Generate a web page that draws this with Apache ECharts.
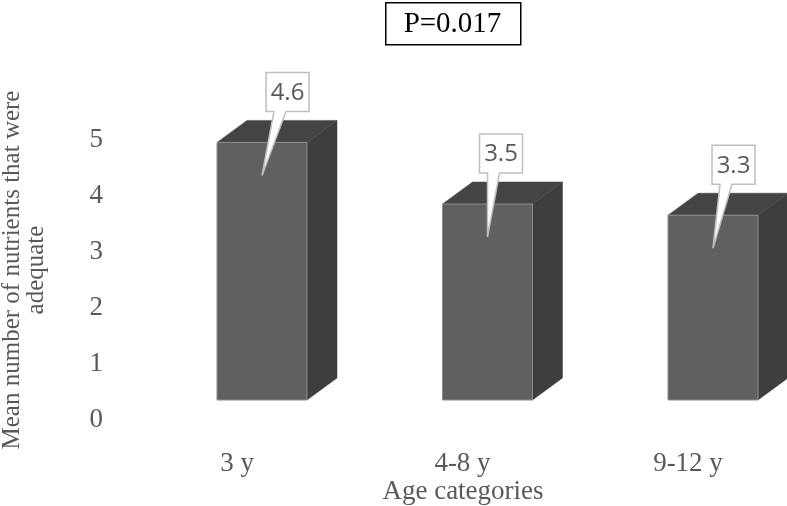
<!DOCTYPE html>
<html>
<head>
<meta charset="utf-8">
<script src="https://cdn.jsdelivr.net/npm/echarts@6/dist/echarts.min.js"></script>
<style>html,body{margin:0;padding:0;background:#fff;}#c{width:787px;height:506px;}</style>
</head>
<body>
<div id="c"></div>
<script>
const categories = ['3 y', '4-8 y', '9-12 y'];
const values = [4.6, 3.5, 3.3];
const yTicks = [0, 1, 2, 3, 4, 5];
const pText = 'P=0.017';
const xTitle = 'Age categories';
const yTitle = 'Mean number of nutrients that were\nadequate';

// callout box horizontal shift relative to its pointer tip (layout only)
const calloutShift = [4, -8, -1];

const chart = echarts.init(document.getElementById('c'), null, {renderer: 'canvas'});
const serif = '"Liberation Serif","Times New Roman",serif';
const txtColor = '#595959';

function renderItem(params, api) {
  const idx = api.value(0);
  const val = api.value(1);
  const p0 = api.coord([idx, 0]);
  const p1 = api.coord([idx, val]);
  const cx = p0[0] + 25;
  const base = p0[1] - 20;
  const top = p1[1] - 20;
  const hw = 45, dx = 30, dy = 22;
  const boxL = cx + calloutShift[params.dataIndex], boxW = 43, boxH = 39;
  const boxB = top - 31, boxT = boxB - boxH;
  const tipX = cx, tipY = top + 33;
  return {
    type: 'group',
    children: [
      {type: 'polygon', shape: {points: [[cx + hw, base], [cx + hw, top], [cx + hw + dx, top - dy], [cx + hw + dx, base - dy]]},
       style: {fill: '#3e3e3e', stroke: '#3e3e3e', lineWidth: 0.5}},
      {type: 'polygon', shape: {points: [[cx - hw, top], [cx - hw + dx, top - dy], [cx + hw + dx, top - dy], [cx + hw, top]]},
       style: {fill: '#444444', stroke: '#444444', lineWidth: 0.5}},
      {type: 'rect', shape: {x: cx - hw, y: top, width: 2 * hw, height: base - top},
       style: {fill: '#606060', stroke: '#8c8c8c', lineWidth: 1}},
      {type: 'polygon', shape: {points: [[boxL, boxT], [boxL + boxW, boxT], [boxL + boxW, boxB], [boxL + 20, boxB], [tipX, tipY], [boxL + 8, boxB], [boxL, boxB]]},
       style: {fill: '#ffffff', stroke: '#bfbfbf', lineWidth: 1.5}},
      {type: 'text', style: {x: boxL + boxW / 2, y: boxT + boxH / 2 + 1, text: val.toFixed(1), fill: '#595959',
        font: '24px "Open Sans", sans-serif', textAlign: 'center', textVerticalAlign: 'middle'}}
    ]
  };
}

chart.setOption({
  animation: false,
  backgroundColor: '#ffffff',
  grid: {left: 237, right: 99, top: 140, height: 280},
  xAxis: {
    type: 'category', data: categories, boundaryGap: false,
    axisLine: {show: false}, axisTick: {show: false}, splitLine: {show: false},
    axisLabel: {margin: 30, fontFamily: serif, fontSize: 27, color: txtColor}
  },
  yAxis: {
    type: 'value', min: 0, max: 5, interval: 1,
    axisLine: {show: false}, axisTick: {show: false}, splitLine: {show: false},
    axisLabel: {margin: 134, fontFamily: serif, fontSize: 27, color: txtColor}
  },
  series: [{
    type: 'custom',
    renderItem: renderItem,
    data: values.map((v, i) => [i, v]),
    clip: false
  }],
  graphic: [
    {type: 'rect', left: 385, top: 2, shape: {width: 135, height: 42},
     style: {fill: '#fff', stroke: '#000', lineWidth: 1.5}},
    {type: 'text', x: 452.5, y: 24, style: {text: pText, font: '29px ' + serif, fill: '#000', textAlign: 'center', textVerticalAlign: 'middle'}},
    {type: 'text', x: 463, y: 492, style: {text: xTitle, font: '27px ' + serif, fill: txtColor, textAlign: 'center', textVerticalAlign: 'middle'}},
    {type: 'text', x: 24, y: 270, rotation: Math.PI / 2,
     style: {text: yTitle, font: '25px ' + serif, fill: txtColor, textAlign: 'center', textVerticalAlign: 'middle', lineHeight: 24}}
  ]
});
</script>
</body>
</html>
